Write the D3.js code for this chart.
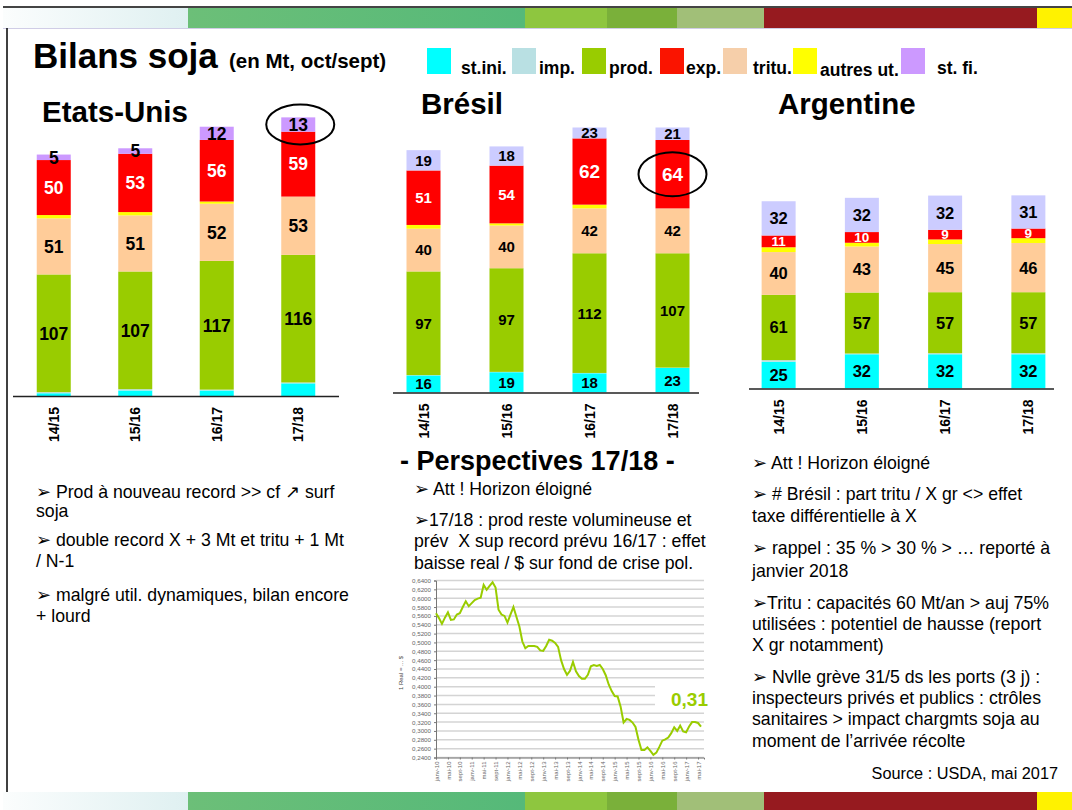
<!DOCTYPE html>
<html>
<head>
<meta charset="utf-8">
<script src="https://cdn.jsdelivr.net/npm/d3@7"></script>
<style>
  body { margin: 0; background: #fff; }
  text { white-space: pre; }
</style>
</head>
<body>
<div id="slide"></div>
<script>
////////////////////////////////////////////////////////////////////////////////
// Data (Mt, oct/sept)
var years = ["14/15", "15/16", "16/17", "17/18"];
var keys = ["stini", "imp", "prod", "tritu", "autres", "exp", "stfi"];

// Etats-Unis
var usStIni  = [2.5, 5, 5, 11.5];
var usImp    = [1, 1.2, 0.8, 0.8];
var usProd   = [107, 107, 117, 116];
var usTritu  = [51, 51, 52, 53];
var usAutres = [3, 3, 2, 0];
var usExp    = [50, 53, 56, 59];
var usStFi   = [5, 5, 12, 13];

// Brésil
var brStIni  = [16, 19, 18, 23];
var brImp    = [0.3, 0.3, 0.3, 0.3];
var brProd   = [97, 97, 112, 107];
var brTritu  = [40, 40, 42, 42];
var brAutres = [3.5, 2, 3.5, 0];
var brExp    = [51, 54, 62, 64];
var brStFi   = [19, 18, 23, 21];

// Argentine
var arStIni  = [25, 32, 32, 32];
var arImp    = [1.5, 0.7, 1, 1];
var arProd   = [61, 57, 57, 57];
var arTritu  = [40, 43, 45, 46];
var arAutres = [4.5, 3.5, 4.3, 4.5];
var arExp    = [11, 10, 9, 9];
var arStFi   = [32, 32, 32, 31];

// Legend
var legendKeys = ["stini", "imp", "prod", "exp", "tritu", "autres", "stfi"];
var legendLabels = ["st.ini.", "imp.", "prod.", "exp.", "tritu.", "autres ut.", "st. fi."];

// 1 Real = ... $ (monthly, janv-10 -> juin-17)
var realUsd = [
  0.566, 0.555, 0.542, 0.556, 0.568, 0.551, 0.552, 0.563, 0.566, 0.580,
  0.593, 0.582, 0.589, 0.596, 0.599, 0.601, 0.630, 0.619, 0.628, 0.636,
  0.624, 0.574, 0.563, 0.560, 0.545, 0.563, 0.580, 0.558, 0.536, 0.502,
  0.487, 0.492, 0.492, 0.492, 0.490, 0.482, 0.481, 0.492, 0.506, 0.504,
  0.499, 0.490, 0.460, 0.440, 0.427, 0.436, 0.456, 0.435, 0.424, 0.418,
  0.418, 0.427, 0.446, 0.449, 0.447, 0.449, 0.440, 0.426, 0.405, 0.390,
  0.379, 0.378, 0.355, 0.319, 0.327, 0.325, 0.319, 0.309, 0.280, 0.257,
  0.257, 0.263, 0.255, 0.246, 0.251, 0.264, 0.278, 0.281, 0.285, 0.295,
  0.308, 0.300, 0.312, 0.299, 0.297, 0.310, 0.320, 0.320, 0.318, 0.310
];
var realTickLabels = ["janv-10", "mai-10", "sept-10", "janv-11", "mai-11", "sept-11",
  "janv-12", "mai-12", "sept-12", "janv-13", "mai-13", "sept-13", "janv-14", "mai-14",
  "sept-14", "janv-15", "mai-15", "sept-15", "janv-16", "mai-16", "sept-16", "janv-17", "mai-17"];

////////////////////////////////////////////////////////////////////////////////
// Styles
var colors = {
  stini: "#00ffff", imp: "#b7dfe3", prod: "#99cc00", tritu: "#ffcc99",
  autres: "#ffff00", exp: "#ff0000", stfi: "#cc99ff"
};
var legendColors = {
  stini: "#00ffff", imp: "#b9e0e3", prod: "#99cc00", tritu: "#f6cfaa",
  autres: "#ffff00", exp: "#fa1400", stfi: "#cc99ff"
};
var FONT = "Arial, 'Liberation Sans', Helvetica, sans-serif";
var BODY = 17.7;

var svg = d3.select("#slide").append("svg")
    .attr("width", 1072).attr("height", 810)
    .style("font-family", FONT);

////////////////////////////////////////////////////////////////////////////////
// Decorative bands top and bottom
var defs = svg.append("defs");
function grad(id, c0, c1) {
  var lg = defs.append("linearGradient").attr("id", id);
  lg.append("stop").attr("offset", "0%").attr("stop-color", c0);
  lg.append("stop").attr("offset", "100%").attr("stop-color", c1);
  return "url(#" + id + ")";
}
var bandSegs = [
  { x0: 3, x1: 188, fill: grad("g-light", "#fbfdfd", "#dff0f1") },
  { x0: 188, x1: 525, fill: grad("g-green", "#6cbf78", "#55b979") },
  { x0: 525, x1: 607, fill: "#8ec63f" },
  { x0: 607, x1: 677, fill: "#7ab03a" },
  { x0: 677, x1: 764, fill: "#a1bf78" },
  { x0: 764, x1: 1037, fill: "#961a1f" },
  { x0: 1037, x1: 1072, fill: "#fff200" }
];
[[8, 20], [792, 18]].forEach(function (b) {
  svg.append("g").selectAll("rect").data(bandSegs).join("rect")
    .attr("x", function (d) { return d.x0; })
    .attr("width", function (d) { return d.x1 - d.x0; })
    .attr("y", b[0]).attr("height", b[1])
    .attr("fill", function (d) { return d.fill; });
});
svg.append("line").attr("x1", 3).attr("x2", 1072).attr("y1", 7).attr("y2", 7)
  .attr("stroke", "#444").attr("stroke-width", 2);
svg.append("line").attr("x1", 3).attr("x2", 1072).attr("y1", 28.5).attr("y2", 28.5)
  .attr("stroke", "#d0cde6").attr("stroke-width", 1);
svg.append("line").attr("x1", 7).attr("x2", 7).attr("y1", 28).attr("y2", 792)
  .attr("stroke", "#000").attr("stroke-width", 1.5);

////////////////////////////////////////////////////////////////////////////////
// Title + legend
svg.append("text").attr("x", 33).attr("y", 68)
  .attr("font-size", 35).attr("font-weight", "bold").text("Bilans soja");
svg.append("text").attr("x", 229).attr("y", 68)
  .attr("font-size", 20.5).attr("font-weight", "bold").text("(en Mt, oct/sept)");

var legendX = [427, 512, 582, 660, 723, 793, 901];
var legendTextX = [461, 539, 609, 686, 753, 820, 937];
var legend = svg.append("g");
legendKeys.forEach(function (k, i) {
  legend.append("rect").attr("x", legendX[i]).attr("y", 48).attr("width", 24).attr("height", 26)
    .attr("fill", legendColors[k]);
  legend.append("text").attr("x", legendTextX[i]).attr("y", k === "autres" ? 76 : 74)
    .attr("font-size", 17.5).attr("font-weight", "bold").text(legendLabels[i]);
});

////////////////////////////////////////////////////////////////////////////////
// Stacked bilan charts
function drawBilan(c) {
  var g = svg.append("g");
  var x = d3.scalePoint().domain(years).range(c.xRange).padding(0.5);
  var y = d3.scaleLinear().domain([0, c.yMax]).range([c.base, c.top]);

  var rows = years.map(function (yr, i) {
    var r = { year: yr };
    keys.forEach(function (k) { r[k] = c.values[k][i]; });
    return r;
  });
  var layers = d3.stack().keys(keys)(rows);

  g.append("clipPath").attr("id", "clip-" + c.id).append("rect")
    .attr("x", c.xRange[0]).attr("y", c.top)
    .attr("width", c.xRange[1] - c.xRange[0]).attr("height", c.base - c.top);

  g.append("g").attr("clip-path", "url(#clip-" + c.id + ")")
    .selectAll("g").data(layers).join("g")
      .attr("fill", function (d) { return d.key === "stfi" ? c.stfiColor : colors[d.key]; })
    .selectAll("rect").data(function (d) { return d; }).join("rect")
      .attr("x", function (d) { return x(d.data.year) - c.barW / 2; })
      .attr("width", c.barW)
      .attr("y", function (d) { return y(d[1]); })
      .attr("height", function (d) { return y(d[0]) - y(d[1]); });

  // value labels
  layers.filter(function (l) { return c.labelKeys.indexOf(l.key) >= 0; }).forEach(function (l) {
    g.append("g").selectAll("text").data(l).join("text")
      .attr("x", function (d) { return x(d.data.year); })
      .attr("y", function (d) { return (Math.max(y(d[1]), c.top) + y(d[0])) / 2; })
      .attr("dy", "0.36em")
      .attr("text-anchor", "middle")
      .attr("font-weight", "bold")
      .attr("font-size", function (d, i) { return l.key === "exp" ? c.expSize[i] : c.labelSize; })
      .attr("fill", l.key === "exp" ? "#fff" : "#000")
      .text(function (d) { return Math.round(d.data[l.key]); });
  });

  // baseline
  g.append("line").attr("x1", c.axisX[0]).attr("x2", c.axisX[1])
    .attr("y1", c.base + 0.5).attr("y2", c.base + 0.5)
    .attr("stroke", "#222").attr("stroke-width", 1.5);

  // category labels
  g.append("g").selectAll("text").data(years).join("text")
    .attr("transform", function (d) { return "translate(" + (x(d) + 5) + "," + (c.base + 11) + ") rotate(-90)"; })
    .attr("text-anchor", "end")
    .attr("font-size", 14).attr("font-weight", "bold")
    .text(function (d) { return d; });

  // highlight ring
  if (c.ring) {
    var layer = layers[keys.indexOf(c.ring.key)];
    var seg = layer[years.indexOf(c.ring.year)];
    var cy = (Math.max(y(seg[1]), c.top) + y(seg[0])) / 2;
    g.append("ellipse").attr("cx", x(c.ring.year) + c.ring.dx).attr("cy", cy - c.ring.dy)
      .attr("rx", 34).attr("ry", c.ring.ry)
      .attr("fill", "none").attr("stroke", "#000").attr("stroke-width", 2);
  }

  svg.append("text").attr("x", c.titleX).attr("y", c.titleY)
    .attr("font-size", 29.5).attr("font-weight", "bold").text(c.title);
}

drawBilan({
  id: "us", title: "Etats-Unis", titleX: 42, titleY: 122,
  values: { stini: usStIni, imp: usImp, prod: usProd, tritu: usTritu, autres: usAutres, exp: usExp, stfi: usStFi },
  xRange: [13, 339], axisX: [13, 339], base: 396, top: 110, yMax: 260, barW: 34,
  stfiColor: "#cc99ff", labelKeys: ["prod", "tritu", "exp", "stfi"],
  labelSize: 17.5, expSize: [17.5, 17.5, 17.5, 17.5],
  ring: { key: "stfi", year: "17/18", ry: 20, dy: 0, dx: 2 }
});
drawBilan({
  id: "br", title: "Brésil", titleX: 421, titleY: 114,
  values: { stini: brStIni, imp: brImp, prod: brProd, tritu: brTritu, autres: brAutres, exp: brExp, stfi: brStFi },
  xRange: [382, 714], axisX: [393, 699], base: 392.5, top: 127.5, yMax: 248, barW: 34,
  stfiColor: "#ccccff", labelKeys: ["stini", "prod", "tritu", "exp", "stfi"],
  labelSize: 15, expSize: [15, 15, 19, 19],
  ring: { key: "exp", year: "17/18", ry: 22, dy: 0, dx: 0 }
});
drawBilan({
  id: "ar", title: "Argentine", titleX: 778, titleY: 114,
  values: { stini: arStIni, imp: arImp, prod: arProd, tritu: arTritu, autres: arAutres, exp: arExp, stfi: arStFi },
  xRange: [737, 1070], axisX: [749, 1054], base: 388.5, top: 121, yMax: 250, barW: 34,
  stfiColor: "#ccccff", labelKeys: ["stini", "prod", "tritu", "exp", "stfi"],
  labelSize: 16.5, expSize: [13.5, 13.5, 13.5, 13.5]
});

////////////////////////////////////////////////////////////////////////////////
// Comment texts
function textBlock(x, lines, size) {
  var t = svg.append("g").attr("font-size", size || BODY);
  lines.forEach(function (l) {
    t.append("text").attr("x", x).attr("y", l[1]).text(l[0]);
  });
}
textBlock(36, [
  ["\u27A2 Prod à nouveau record >> cf \u2197 surf", 498],
  ["soja", 517],
  ["\u27A2 double record X + 3 Mt et tritu + 1 Mt", 546],
  ["/ N-1", 567],
  ["\u27A2 malgré util. dynamiques, bilan encore", 601],
  ["+ lourd", 622]
]);

svg.append("text").attr("x", 400).attr("y", 470)
  .attr("font-size", 27).attr("font-weight", "bold").text("- Perspectives 17/18 -");
textBlock(414, [
  ["\u27A2 Att ! Horizon éloigné", 495],
  ["\u27A217/18 : prod reste volumineuse et", 526],
  ["prév  X sup record prévu 16/17 : effet", 547],
  ["baisse real / $ sur fond de crise pol.", 569]
]);

textBlock(752, [
  ["\u27A2 Att ! Horizon éloigné", 469],
  ["\u27A2 # Brésil : part tritu / X gr <> effet", 500],
  ["taxe différentielle à X", 522],
  ["\u27A2 rappel : 35 % > 30 % > \u2026 reporté à", 554],
  ["janvier 2018", 577],
  ["\u27A2Tritu : capacités 60 Mt/an > auj 75%", 609],
  ["utilisées : potentiel de hausse (report", 630],
  ["X gr notamment)", 651],
  ["\u27A2 Nvlle grève 31/5 ds les ports (3 j) :", 683],
  ["inspecteurs privés et publics : ctrôles", 704],
  ["sanitaires > impact chargmts soja au", 725],
  ["moment de l\u2019arrivée récolte", 747]
]);
svg.append("text").attr("x", 1058).attr("y", 779).attr("text-anchor", "end")
  .attr("font-size", 16.3).text("Source : USDA, mai 2017");

////////////////////////////////////////////////////////////////////////////////
// Real / $ line chart
var lc = svg.append("g");
var lx = d3.scaleLinear().domain([0, realUsd.length]).range([436, 704]);
var ly = d3.scaleLinear().domain([0.24, 0.64]).range([757.5, 580.5]);
var realTicks = ly.ticks(20);

lc.append("g").selectAll("line").data(realTicks).join("line")
  .attr("x1", 436).attr("x2", 704)
  .attr("y1", function (d) { return ly(d); }).attr("y2", function (d) { return ly(d); })
  .attr("stroke", "#d4d4d4").attr("stroke-width", 1.5);

// label box hides the grid behind "0,31"
lc.append("rect").attr("x", 655).attr("y", ly(0.41)).attr("width", 52)
  .attr("height", ly(0.35) - ly(0.41)).attr("fill", "#fff");

var fmtReal = function (d) { return d3.format(".4f")(d).replace(".", ","); };
var yAx = lc.append("g").attr("transform", "translate(436,0)")
  .call(d3.axisLeft(ly).tickValues(realTicks).tickFormat(fmtReal).tickSize(2));
yAx.selectAll("text").attr("font-size", 6.2).attr("fill", "#666").attr("font-family", FONT);
yAx.selectAll("line, path").attr("stroke", "#777");

var xAx = lc.append("g").attr("transform", "translate(0,757.5)")
  .call(d3.axisBottom(lx).tickValues(d3.range(0, 89, 4))
    .tickFormat(function (d, i) { return realTickLabels[i]; }).tickSize(2));
xAx.selectAll("line, path").attr("stroke", "#777");
xAx.selectAll("text").attr("font-size", 6).attr("fill", "#666").attr("font-family", FONT)
  .attr("text-anchor", "end").attr("transform", "rotate(-90)")
  .attr("x", -4).attr("y", 0).attr("dy", "0.35em");

lc.append("text").attr("transform", "translate(403,673) rotate(-90)")
  .attr("text-anchor", "middle").attr("font-size", 6).attr("fill", "#444")
  .text("1 Real = ... $");

lc.append("path").datum(realUsd)
  .attr("fill", "none").attr("stroke", "#99cc00").attr("stroke-width", 2)
  .attr("d", d3.line().x(function (d, i) { return lx(i); }).y(function (d) { return ly(d); }));

lc.append("text").attr("x", 708).attr("y", 706).attr("text-anchor", "end")
  .attr("font-size", 19).attr("font-weight", "bold").attr("fill", "#99cc00")
  .text(d3.format(".2f")(realUsd[realUsd.length - 1]).replace(".", ","));
</script>
</body>
</html>
